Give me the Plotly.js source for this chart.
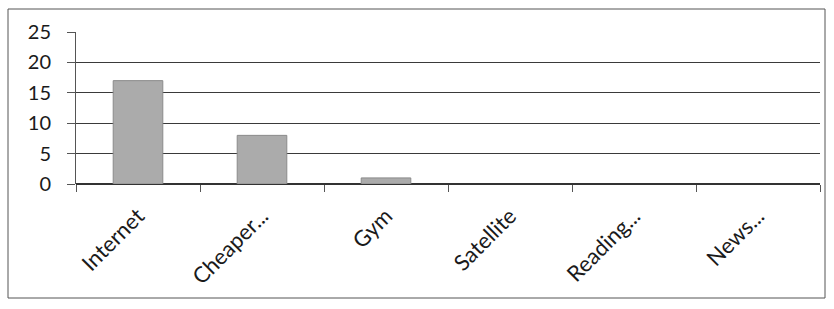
<!DOCTYPE html>
<html>
<head>
<meta charset="utf-8">
<script src="https://cdn.plot.ly/plotly-3.0.1.min.js"></script>
<style>
html,body{margin:0;padding:0;background:#fff;}
#chart{width:834px;height:309px;}
</style>
</head>
<body>
<div id="chart"></div>
<script>
var categories = ["Internet", "Cheaper...", "Gym", "Satellite", "Reading...", "News..."];
var values = [17, 8, 1, 0, 0, 0];
var yTicks = [0, 5, 10, 15, 20, 25];

var trace = {
  type: "bar",
  x: categories,
  y: values,
  width: 0.4,
  marker: {color: "#ababab", line: {color: "#8a8a8a", width: values.map(function(v){ return v > 0 ? 1 : 0; })}},
  hoverinfo: "none"
};

var L = 76, R = 14, T = 32, B = 125, W = 834, H = 309;
var pw = W - L - R, ph = H - T - B;
function px2x(p){ return (p - L) / pw; }
function py2y(p){ return (H - B - p) / ph; }

var layout = {
  width: W, height: H,
  margin: {l: L, r: R, t: T, b: B, pad: 0},
  paper_bgcolor: "#fff",
  plot_bgcolor: "#fff",
  showlegend: false,
  font: {family: "Lato, 'Liberation Sans', sans-serif", size: 20, color: "#1a1a1a"},
  xaxis: {
    type: "category",
    tickangle: -45,
    ticks: "outside",
    tickson: "boundaries",
    ticklen: 7,
    tickcolor: "#555",
    showline: false,
    showgrid: false,
    zeroline: false,
    ticklabelstandoff: 14,
    tickfont: {size: 22},
    fixedrange: true
  },
  yaxis: {
    range: [0, 25],
    tickvals: yTicks,
    ticktext: yTicks.map(String),
    ticks: "outside",
    ticklen: 8,
    tickcolor: "#555",
    showline: true,
    linecolor: "#555",
    linewidth: 1,
    showgrid: true,
    gridcolor: "#3a3a3a",
    gridwidth: 1,
    zeroline: true,
    zerolinecolor: "#333",
    zerolinewidth: 1.5,
    ticklabelstandoff: 12,
    tickfont: {size: 20},
    fixedrange: true
  },
  shapes: [{
    type: "rect", xref: "paper", yref: "paper",
    x0: px2x(8), x1: px2x(825), y0: py2y(298), y1: py2y(9),
    line: {color: "#555", width: 1}, fillcolor: "rgba(0,0,0,0)", layer: "below"
  }]
};

Plotly.newPlot("chart", [trace], layout, {displayModeBar: false, staticPlot: true});
</script>
</body>
</html>
